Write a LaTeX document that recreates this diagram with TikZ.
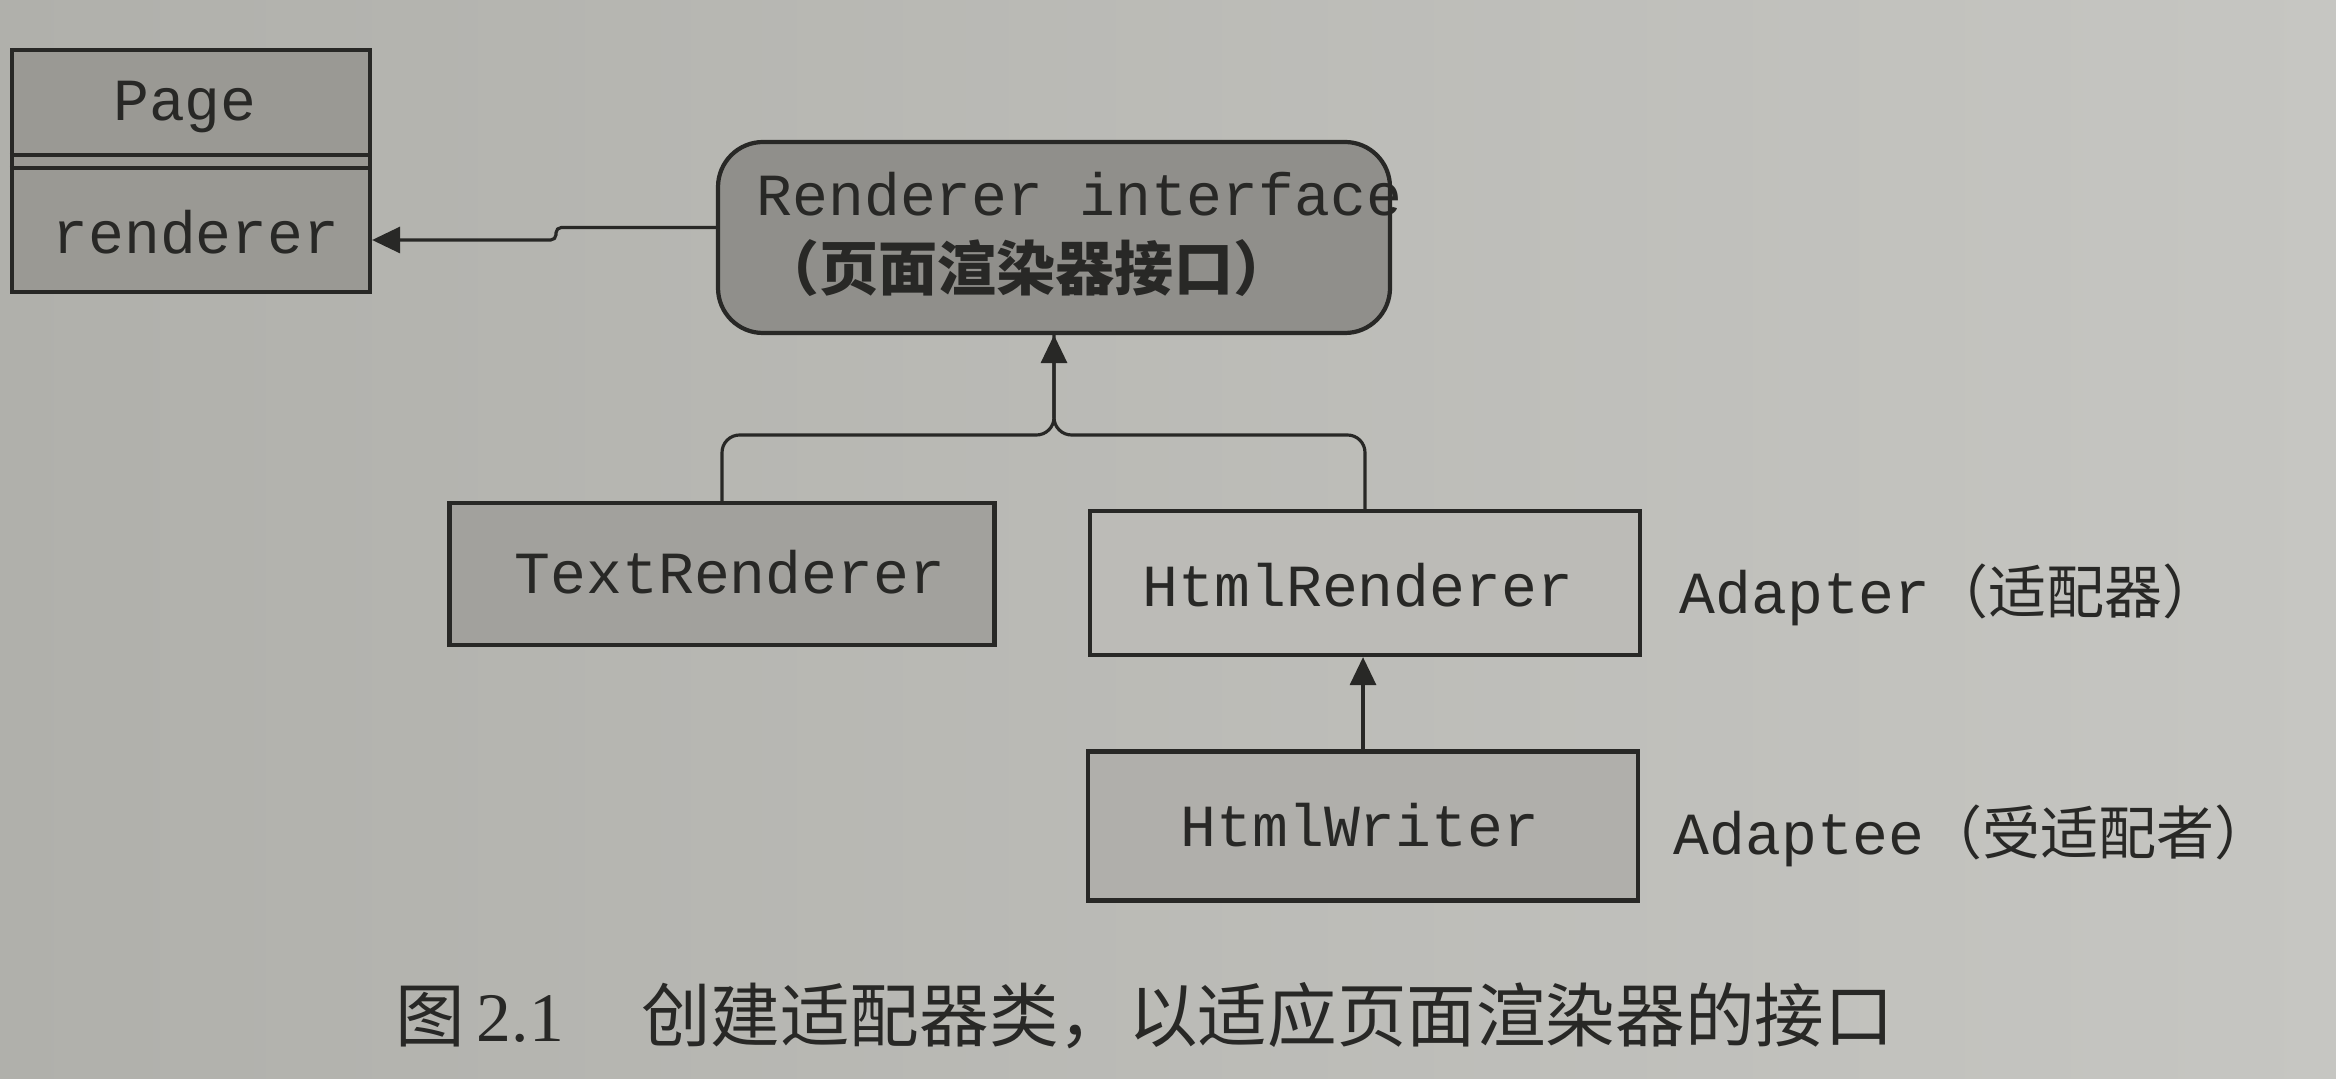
\documentclass[tikz,border=0pt]{standalone}
\usepackage{fontspec}
\setmainfont{Liberation Serif}
\setmonofont{Liberation Mono}
\newfontfamily\cjk{Noto Sans CJK SC}
\usetikzlibrary{arrows.meta,calc}
\definecolor{paperL}{RGB}{176,176,171}
\definecolor{paperR}{RGB}{198,198,194}
\definecolor{ink}{RGB}{40,40,38}
\definecolor{pageC}{RGB}{154,153,148}
\definecolor{riC}{RGB}{144,143,139}
\definecolor{trC}{RGB}{162,161,157}
\definecolor{hrC}{RGB}{188,187,183}
\definecolor{hwC}{RGB}{176,175,171}
\begin{document}
\begin{tikzpicture}[x=0.1mm,y=-0.1mm,
  box/.style={draw=ink,line width=1.2pt,rectangle,inner sep=0pt},
  conn/.style={draw=ink,line width=0.9pt},
  tip/.style={-{Triangle[length=2.8mm,width=2.6mm]}},
  mono/.style={font=\fontsize{17}{20}\selectfont\ttfamily,text=ink,inner sep=0pt},
  lbl/.style={font=\fontsize{17}{20}\selectfont\ttfamily,text=ink,inner sep=0pt,anchor=west},
  ]
\useasboundingbox (0,0) rectangle (2336,1079);
\shade[left color=paperL,right color=paperR] (0,0) rectangle (2336,1079);

% Page class
\node[box,fill=pageC,minimum width=35.8mm,minimum height=24.2mm] (page) at (191,171) {};
\draw[ink,line width=1.2pt] (page.west |- 0,155) -- (page.east |- 0,155);
\draw[ink,line width=1.2pt] (page.west |- 0,168) -- (page.east |- 0,168);
\node[mono] (pagename) at (185,107) {Page};
\node[mono] (pageattr) at (196,232) {renderer};

% Renderer interface
\node[box,fill=riC,rounded corners=4.5mm,minimum width=67.2mm,minimum height=19.1mm] (ri) at (1054,237.5) {};
\node[mono,anchor=west] (ri1) at (756,194) {Renderer interface};
\node[inner sep=0pt,anchor=west,text=ink,font=\fontsize{16.8}{20}\selectfont\cjk\bfseries] (ri2) at (760,268) {（页面渲染器接口）};

% Concrete renderers
\node[box,fill=trC,minimum width=54.5mm,minimum height=14.2mm] (tr) at (722,574) {};
\node[mono] (trt) at (730,572) {TextRenderer};
\node[box,fill=hrC,minimum width=55mm,minimum height=14.4mm] (hr) at (1365,583) {};
\node[mono] (hrt) at (1358,585) {HtmlRenderer};
\node[box,fill=hwC,minimum width=55mm,minimum height=14.9mm] (hw) at (1363,826) {};
\node[mono] (hwt) at (1360,825) {HtmlWriter};

% Labels
\node[lbl] (adapter) at (1679,595) {Adapter{\cjk\fontsize{16.5}{20}\selectfont （适配器）}};
\node[lbl] (adaptee) at (1673,836) {Adaptee{\cjk\fontsize{16.5}{20}\selectfont （受适配者）}};

% Caption
\node[anchor=west,inner sep=0pt,text=ink,font=\fontsize{19.8}{24}\selectfont\cjk] (cap) at (395,1016)
  {图\,{\rmfamily 2.1}\hspace{22pt}创建适配器类，以适应页面渲染器的接口};

% Connectors
\coordinate (junc) at (1054,435);
\draw[conn,tip,rounded corners=1.5pt] ($(ri.west)+(0,-10)$) -| (556,240) -- ($(page.east)+(0,69)$);
\draw[conn,rounded corners=5pt] (tr.north) |- (junc) -- (ri.south);
\draw[conn,tip,rounded corners=5pt] (hr.north) |- (junc) -- (ri.south);
\draw[conn,tip] (hw.north) -- (hw.north |- hr.south);
\end{tikzpicture}
\end{document}
